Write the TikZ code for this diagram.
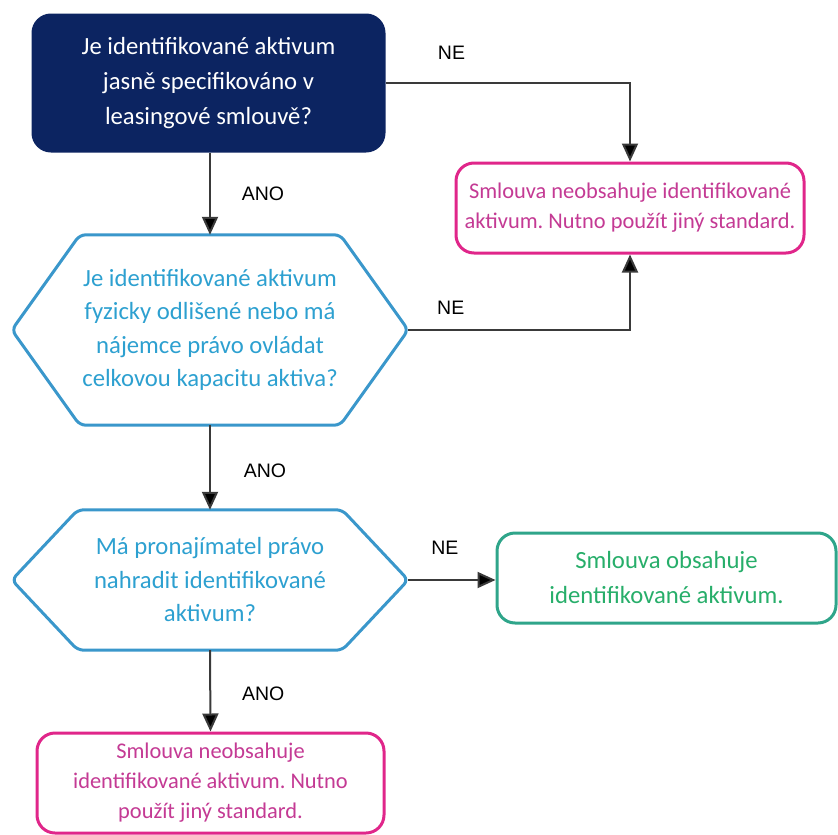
\documentclass[tikz,border=0pt]{standalone}
\usepackage{fontspec}
\setmainfont{Carlito}
\newfontfamily\labelfont{Liberation Sans}
\usetikzlibrary{arrows.meta,calc}
\definecolor{navy}{HTML}{0C2461}
\definecolor{pinkline}{HTML}{E0268A}
\definecolor{pinktext}{HTML}{C43A94}
\definecolor{blueline}{HTML}{3A97CB}
\definecolor{bluetext}{HTML}{2DA0D0}
\definecolor{greenline}{HTML}{2FA58A}
\definecolor{greentext}{HTML}{27AE6A}
\definecolor{connc}{HTML}{3A3A3A}
\begin{document}
\frenchspacing
\begin{tikzpicture}[x=1pt,y=-1pt,
  basebox/.style={rounded corners=18pt, line width=3pt, align=center, inner sep=0pt},
  navybox/.style={basebox, draw=navy, fill=navy, text=white, font=\fontsize{24.7}{35}\selectfont},
  pinkbox/.style={basebox, draw=pinkline, fill=white, text=pinktext, font=\fontsize{22.4}{30}\selectfont},
  greenbox/.style={basebox, draw=greenline, fill=white, text=greentext, font=\fontsize{24.7}{35}\selectfont},
  hexnode/.style={align=center, inner sep=0pt, text=bluetext, font=\fontsize{24.7}{33.5}\selectfont},
  hexline/.style={draw=blueline, line width=3pt, rounded corners=6pt},
  conn/.style={draw=connc, line width=2pt, -{Triangle[length=18pt,width=16pt,fill=black]}, shorten >=0pt},
  lbl/.style={font=\labelfont\fontsize{19.5}{22}\selectfont, text=black, inner sep=0pt}
]
\useasboundingbox (0,0) rectangle (838,835);

% nodes
\node[navybox, minimum width=351pt, minimum height=136pt] (q1) at (208.5,83)
  {Je identifikované aktivum\\jasně specifikováno v\\leasingové smlouvě?};
\node[pinkbox, minimum width=348pt, minimum height=90pt] (p1) at (630,208)
  {Smlouva neobsahuje identifikované\\aktivum. Nutno použít jiný standard.};
\node[hexnode, minimum width=396pt, minimum height=190pt] (q2) at (210,330)
  {Je identifikované aktivum\\fyzicky odlišené nebo má\\nájemce právo ovládat\\celkovou kapacitu aktiva?};
\draw[hexline] (q2.west) -- ($(q2.north west)+(68,0)$) -- ($(q2.north east)+(-68,0)$)
  -- (q2.east) -- ($(q2.south east)+(-68,0)$) -- ($(q2.south west)+(68,0)$) -- cycle;
\node[hexnode, minimum width=396pt, minimum height=140pt] (q3) at (210,580)
  {Má pronajímatel právo\\nahradit identifikované\\aktivum?};
\draw[hexline] (q3.west) -- ($(q3.north west)+(66,0)$) -- ($(q3.north east)+(-66,0)$)
  -- (q3.east) -- ($(q3.south east)+(-66,0)$) -- ($(q3.south west)+(66,0)$) -- cycle;
\node[greenbox, minimum width=339pt, minimum height=90pt] (g1) at (666.5,578)
  {Smlouva obsahuje\\identifikované aktivum.};
\node[pinkbox, minimum width=347pt, minimum height=100pt] (p2) at (210.5,783)
  {Smlouva neobsahuje\\identifikované aktivum. Nutno\\použít jiný standard.};

% connectors
\draw[conn] (q1.south -| q2.north) -- node[lbl, xshift=53pt] (l1) {ANO} (q2.north);
\draw[conn] (q1.east) -| node[lbl, pos=0.135, yshift=30pt] (l2) {NE} (p1.north);
\draw[conn] (q2.east) -| node[lbl, pos=0.096, yshift=22pt] (l3) {NE} (p1.south);
\draw[conn] (q2.south) -- node[lbl, xshift=55pt, yshift=-3pt] (l4) {ANO} (q3.north);
\draw[conn] (q3.east) -- node[lbl, xshift=-7pt, yshift=32pt] (l5) {NE} (q3.east -| g1.west);
\draw[conn] (q3.south) -- node[lbl, xshift=53pt, yshift=-3pt] (l6) {ANO} (p2.north);
\end{tikzpicture}
\end{document}
